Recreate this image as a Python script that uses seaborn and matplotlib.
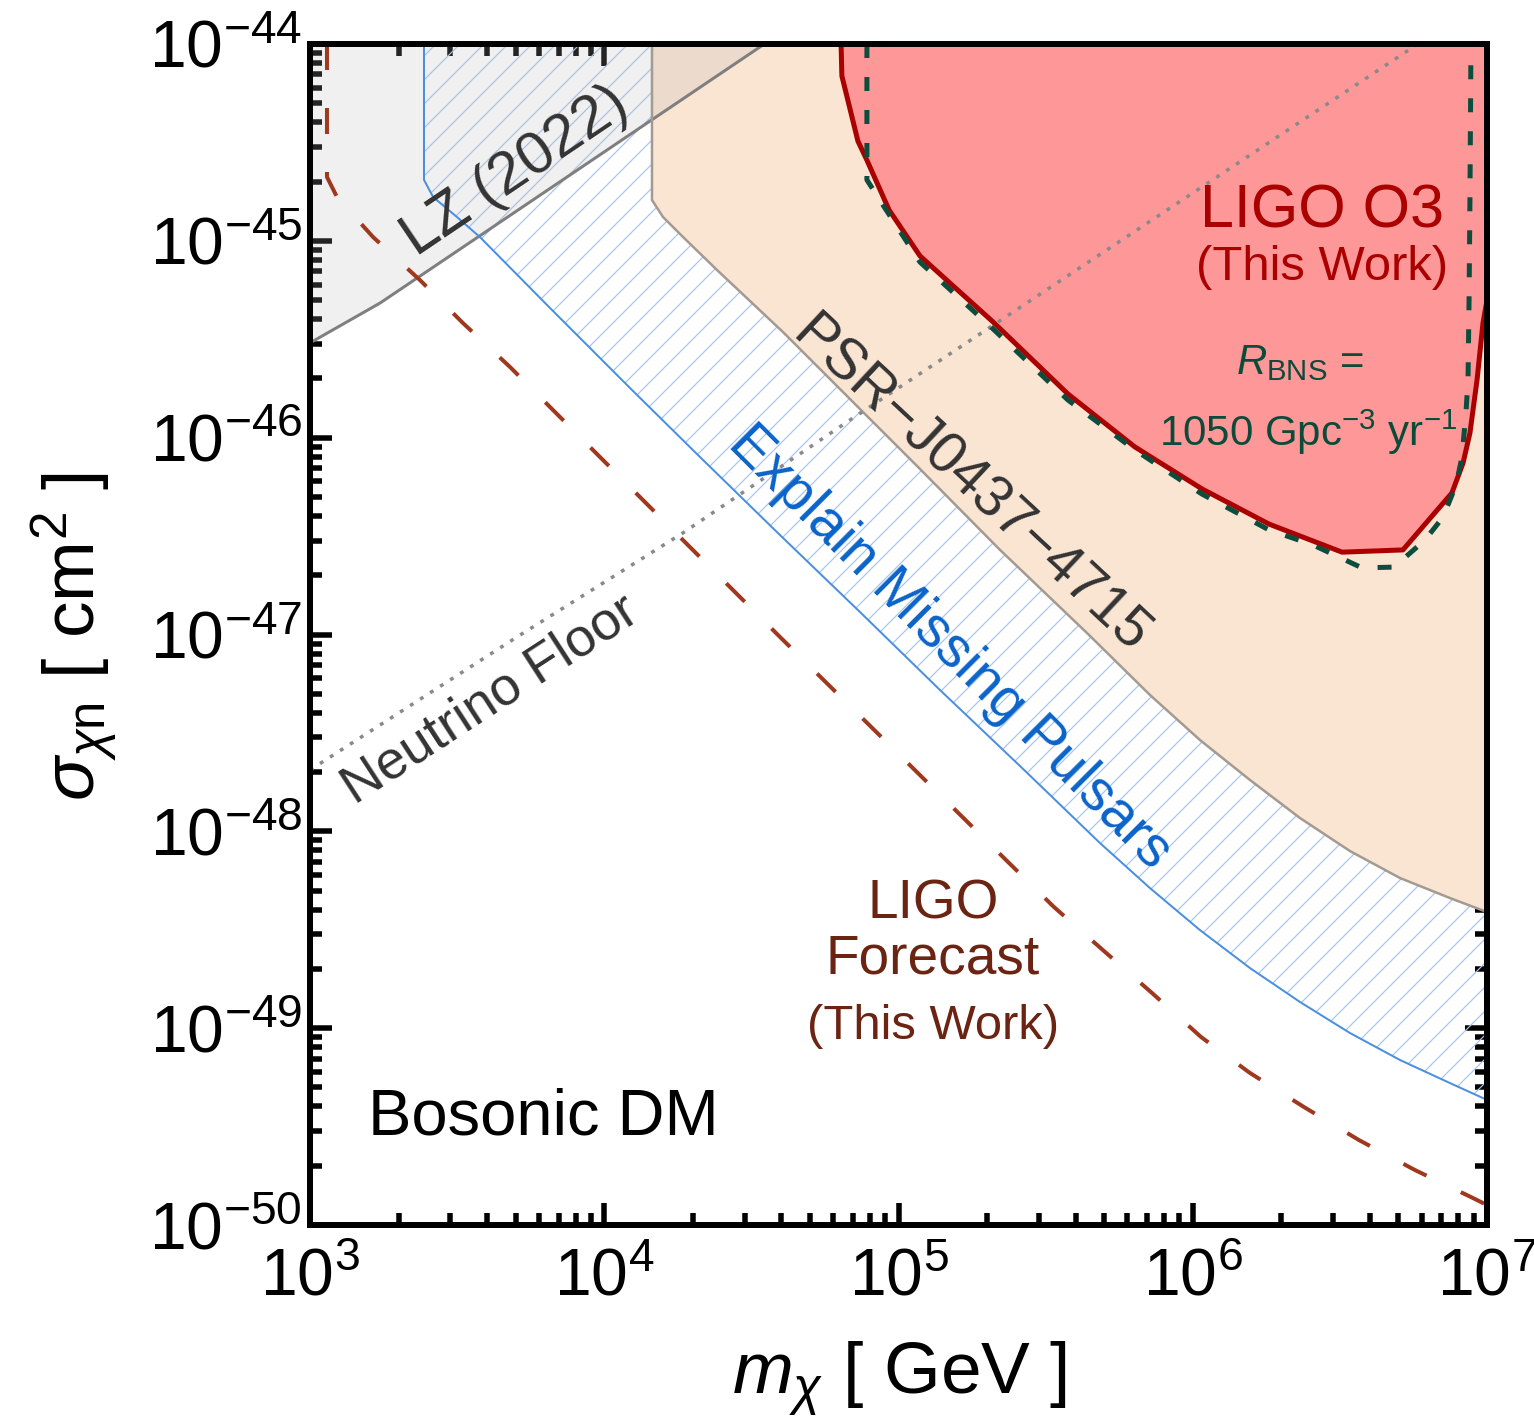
import numpy as np
import pandas as pd
import matplotlib
matplotlib.use('Agg')
import matplotlib.pyplot as plt
import seaborn as sns
from matplotlib.ticker import LogLocator, NullFormatter, FixedLocator

# ---------------- data ----------------
# LZ (2022) exclusion limit
lz_mass = [1.0e3, 1.73e3, 1.0e4, 3.5e4, 1.0e5]
lz_sigma = [3.03e-46, 4.83e-46, 2.83e-45, 1.0e-44, 2.9e-44]

# "Explain Missing Pulsars" lower boundary
emp_mass = [2.44e3, 2.44e3, 2.62e3, 3.16e3, 3.78e3, 6.54e3, 1.223e4, 2.116e4, 3.957e4, 7.40e4,
            1.384e5, 2.588e5, 4.838e5, 7.154e5, 1.058e6, 1.565e6, 2.315e6, 3.422e6, 5.063e6, 7.487e6, 1.0e7]
emp_sigma = [1e-44, 2.04e-45, 1.67e-45, 1.32e-45, 1.045e-45, 4.56e-46, 1.788e-46, 7.97e-47, 3.20e-47, 1.30e-47,
             5.22e-48, 2.147e-48, 8.72e-49, 5.15e-49, 3.15e-49, 2.02e-49, 1.358e-49, 9.45e-50, 6.89e-50, 5.26e-50, 4.32e-50]

# PSR-J0437-4715 exclusion boundary
psr_mass = [1.453e4, 1.453e4, 1.584e4, 1.852e4, 2.416e4, 4.05e4, 6.84e4, 1.156e5, 2.213e5,
            4.406e5, 7.154e5, 1.058e6, 1.565e6, 2.315e6, 3.422e6, 5.063e6, 7.487e6, 1.0e7]
psr_sigma = [1e-44, 1.612e-45, 1.321e-45, 1.046e-45, 7.11e-46, 3.44e-46, 1.572e-46, 7.18e-47, 2.69e-47,
             1.006e-47, 4.93e-48, 2.91e-48, 1.823e-48, 1.168e-48, 7.94e-49, 5.79e-49, 4.58e-49, 3.89e-49]

# LIGO O3 exclusion (this work)
o3_mass = [6.38e4, 6.42e4, 7.28e4, 7.81e4, 9.29e4, 1.183e5, 1.496e5, 2.079e5, 3.767e5, 6.36e5,
           1.075e6, 1.816e6, 3.216e6, 5.18e6, 7.60e6, 8.29e6, 8.75e6, 9.25e6, 9.69e6, 1.0e7]
o3_sigma = [1e-44, 6.88e-45, 3.21e-45, 2.57e-45, 1.434e-45, 8.38e-46, 6.10e-46, 3.915e-46, 1.666e-46, 8.97e-47,
            5.49e-47, 3.64e-47, 2.62e-47, 2.69e-47, 5.24e-47, 7.43e-47, 1.056e-46, 1.963e-46, 3.82e-46, 5.0e-46]

# LIGO O3 with R_BNS = 1050 Gpc^-3 yr^-1
rate_mass = [7.81e4, 7.81e4, 8.99e4, 1.183e5, 2.079e5, 3.767e5, 6.36e5, 1.075e6, 1.816e6, 2.563e6,
             3.761e6, 4.83e6, 6.155e6, 7.09e6, 7.85e6, 8.22e6, 8.48e6, 8.62e6, 8.69e6, 8.75e6, 8.82e6]
rate_sigma = [1e-44, 2.04e-45, 1.468e-45, 7.80e-46, 3.61e-46, 1.553e-46, 8.66e-47, 5.17e-47, 3.40e-47, 2.85e-47,
              2.18e-47, 2.20e-47, 3.02e-47, 3.95e-47, 5.75e-47, 7.97e-47, 1.334e-46, 1.963e-46, 5.0e-46, 1.612e-45, 1e-44]

# LIGO forecast (this work)
fc_mass = [1.142e3, 1.142e3, 1.235e3, 1.637e3, 2.364e3, 3.311e3, 4.783e3, 9.674e3, 1.956e4, 3.957e4,
           2.374e5, 3.376e5, 4.955e5, 7.27e5, 1.067e6, 1.565e6, 2.388e6, 3.673e6, 5.69e6, 8.82e6, 1.0e7]
fc_sigma = [1e-44, 2.11e-45, 1.670e-45, 1.046e-45, 6.32e-46, 3.82e-46, 2.286e-46, 7.97e-47, 2.78e-47, 9.71e-48,
            6.91e-49, 4.125e-49, 2.49e-49, 1.509e-49, 9.02e-50, 5.92e-50, 3.975e-50, 2.70e-50, 1.902e-50, 1.387e-50, 1.263e-50]

# Neutrino floor
nu_mass = [1.0e3, 5.05e3, 1.85e4, 6.84e4, 4.99e6, 1.0e7]
nu_sigma = [2.05e-48, 9.71e-48, 3.28e-47, 1.229e-46, 8.59e-45, 1.7e-44]

# axis ticks
x_ticks = [1e3, 1e4, 1e5, 1e6, 1e7]
y_ticks = [1e-50, 1e-49, 1e-48, 1e-47, 1e-46, 1e-45, 1e-44]

# ---------------- style ----------------
sns.set_theme(style='ticks')
plt.rcParams['font.family'] = ['Liberation Sans', 'DejaVu Sans']
plt.rcParams['mathtext.fontset'] = 'custom'
plt.rcParams['mathtext.rm'] = 'Liberation Sans'
plt.rcParams['mathtext.it'] = 'Liberation Sans:italic'
plt.rcParams['mathtext.bf'] = 'Liberation Sans:bold'
plt.rcParams['mathtext.sf'] = 'Liberation Sans'
plt.rcParams['hatch.linewidth'] = 1.2
plt.rcParams['axes.unicode_minus'] = True
plt.rcParams['text.color'] = 'black'
plt.rcParams['axes.labelcolor'] = 'black'
plt.rcParams['xtick.color'] = 'black'
plt.rcParams['ytick.color'] = 'black'

DPI = 72
W, H = 1534, 1426
fig = plt.figure(figsize=(W / DPI, H / DPI), dpi=DPI)
fig.patch.set_facecolor('white')
ax = fig.add_axes([310 / W, (H - 1225) / H, 1177 / W, 1181 / H])
ax.set_facecolor('white')
ax.set_xscale('log')
ax.set_yscale('log')

TOP = 1e-43
# regions
ax.fill_between(emp_mass, emp_sigma, TOP, facecolor='none', edgecolor='#a8c4e8',
                hatch='/', linewidth=0, zorder=1)
ax.fill_between(psr_mass, psr_sigma, TOP, facecolor='#fae4d2', linewidth=0, zorder=2)
ax.fill_between(lz_mass, lz_sigma, TOP, facecolor='#b5b5b5', alpha=0.2, linewidth=0, zorder=3)
ax.fill_between(o3_mass, o3_sigma, TOP, facecolor='#fe9797', linewidth=0, zorder=4)


def curve(x, y, **kw):
    df = pd.DataFrame({'m': x, 's': y})
    sns.lineplot(data=df, x='m', y='s', sort=False, estimator=None, ax=ax, **kw)


curve(lz_mass, lz_sigma, color='#7f7f7f', linewidth=3, zorder=5)
curve(emp_mass, emp_sigma, color='#4a8fe0', linewidth=2, zorder=5)
curve(psr_mass, psr_sigma, color='#a39a92', linewidth=2.5, zorder=5)
curve(nu_mass, nu_sigma, color='#8a8a8a', linewidth=3.5, linestyle=(0, (1.1, 2.3)),
      dash_capstyle='butt', zorder=6)
curve(fc_mass, fc_sigma, color='#a0381e', linewidth=4, linestyle=(0, (6.5, 9.5)),
      dash_capstyle='butt', zorder=6)
curve(o3_mass, o3_sigma, color='#aa0000', linewidth=5, zorder=7)
curve(rate_mass, rate_sigma, color='#0d4d3d', linewidth=5, linestyle=(0, (2.8, 3.8)),
      dash_capstyle='butt', zorder=8)

# ---------------- text ----------------
txt = dict(ha='center', va='center', rotation_mode='anchor', zorder=10)
ax.text(4973, 2.24e-45, 'LZ (2022)', rotation=34, fontsize=60, color='#333333', **txt)
ax.text(1.75e5, 5.75e-47, 'PSR\u2212J0437\u22124715', rotation=-43, fontsize=57, color='#333333', **txt)
ax.text(1.496e5, 8.54e-48, 'Explain Missing Pulsars', rotation=-45, fontsize=57, color='#0a63c9', **txt)
ax.text(4090, 4.64e-48, 'Neutrino Floor', rotation=33, fontsize=54, color='#333333', **txt)
ax.text(2.75e6, 1.401e-45, 'LIGO O3', fontsize=61, color='#aa0000', **txt)
ax.text(2.75e6, 7.28e-46, '(This Work)', fontsize=49, color='#aa0000', **txt)
ax.text(2.315e6, 2.394e-46, r'$R_{\mathrm{BNS}}$ =', fontsize=42, color='#0c4a3a', **txt)
ax.text(2.465e6, 1.069e-46, r'1050 Gpc$^{-3}$ yr$^{-1}$', fontsize=42, color='#0c4a3a', **txt)
ax.text(1.31e5, 4.23e-49, 'LIGO', fontsize=55, color='#6b2312', **txt)
ax.text(1.31e5, 2.22e-49, 'Forecast', fontsize=55, color='#6b2312', **txt)
ax.text(1.31e5, 1.014e-49, '(This Work)', fontsize=49, color='#6b2312', **txt)
ax.text(1574, 3.50e-50, 'Bosonic DM', fontsize=65, color='black', ha='left', va='center', zorder=10)

# ---------------- axes ----------------
ax.set_xlim(1e3, 1e7)
ax.set_ylim(1e-50, 1e-44)
ax.xaxis.set_major_locator(FixedLocator(x_ticks))
ax.yaxis.set_major_locator(FixedLocator(y_ticks))
for axis in (ax.xaxis, ax.yaxis):
    axis.set_minor_locator(LogLocator(base=10, subs=np.arange(2, 10) * 1.0, numticks=100))
    axis.set_minor_formatter(NullFormatter())
ax.tick_params(which='both', direction='in', top=True, right=True, color='black',
               labelcolor='black')
ax.tick_params(which='major', length=22, width=5.5, labelsize=66)
ax.tick_params(which='minor', length=12, width=5.5)
ax.tick_params(axis='x', which='major', pad=22)
ax.tick_params(axis='y', which='major', pad=8)
for sp in ax.spines.values():
    sp.set_linewidth(6)
    sp.set_color('black')
    sp.set_zorder(20)

ax.set_xlabel(r'$m_{\chi}$ [ GeV ]', fontsize=73, color='black')
ax.set_ylabel(r'$\sigma_{\chi\mathrm{n}}$ [ cm$^{2}$ ]', fontsize=73, color='black')
ax.xaxis.label.set_va('center')
ax.yaxis.label.set_va('center')
ax.xaxis.set_label_coords(0.501, -0.1296)
ax.yaxis.set_label_coords(-0.1997, 0.498)

fig.savefig('out.png', dpi=DPI, facecolor='white')
